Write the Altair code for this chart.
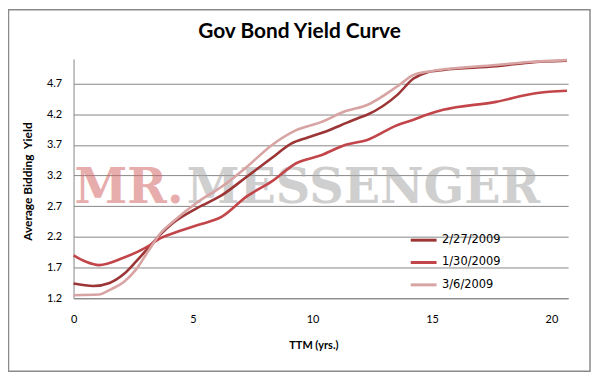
import altair as alt
import pandas as pd

# ---- data ----
series_names = ["2/27/2009", "1/30/2009", "3/6/2009"]
series_colors = ["#9C3535", "#C2454A", "#D8A3A3"]

ttm_0227 = [0, 0.82, 1.51, 2.09, 2.62, 3.13, 3.64, 4.17, 5.17, 6.21, 7.25, 8.28, 9.11, 9.80,
            10.5, 11.19, 11.88, 12.29, 13.54, 14.23, 14.78, 15.47, 17.68, 19.06, 20.65]
yld_0227 = [1.44, 1.40, 1.45, 1.59, 1.80, 2.02, 2.24, 2.43, 2.67, 2.88, 3.18, 3.48, 3.72, 3.82,
            3.91, 4.02, 4.13, 4.19, 4.51, 4.78, 4.88, 4.92, 4.98, 5.04, 5.07]

ttm_0130 = [0, 0.55, 1.06, 2.09, 3.13, 3.64, 4.17, 5.17, 6.21, 7.25, 8.28, 9.32, 10.36, 11.39,
            12.29, 13.54, 14.23, 14.78, 15.47, 17.68, 19.34, 20.65]
yld_0130 = [1.90, 1.79, 1.74, 1.86, 2.05, 2.18, 2.26, 2.39, 2.53, 2.86, 3.10, 3.40, 3.53, 3.70,
            3.78, 4.02, 4.11, 4.19, 4.27, 4.40, 4.54, 4.58]

ttm_0306 = [0, 1.06, 1.58, 2.09, 2.62, 3.13, 3.64, 4.17, 5.17, 6.21, 7.25, 8.28, 9.32, 10.36,
            11.39, 12.29, 13.54, 14.23, 14.78, 15.47, 17.68, 19.06, 20.65]
yld_0306 = [1.25, 1.26, 1.35, 1.46, 1.67, 1.97, 2.26, 2.45, 2.76, 3.02, 3.34, 3.69, 3.94, 4.07,
            4.25, 4.35, 4.65, 4.84, 4.89, 4.93, 5.00, 5.05, 5.08]

y_ticks = [1.2, 1.7, 2.2, 2.7, 3.2, 3.7, 4.2, 4.7]
x_ticks = [0, 5, 10, 15, 20]

title_text = "Gov Bond Yield Curve"
x_title = "TTM (yrs.)"
y_title = "Average Bidding\u00a0 Yield"
watermark_a = "MR."
watermark_b = "MESSENGER"

frames = []
for name, t, y in [(series_names[0], ttm_0227, yld_0227),
                   (series_names[1], ttm_0130, yld_0130),
                   (series_names[2], ttm_0306, yld_0306)]:
    frames.append(pd.DataFrame({"series": name, "ttm": t, "yield": y}))
df = pd.concat(frames, ignore_index=True)

W, H = 498, 241

one = pd.DataFrame({"k": [0]})

frame = alt.Chart(one).mark_rect(
    fill="white", fillOpacity=0, stroke="#8a8a8a", strokeWidth=1.5
).encode(
    x=alt.value(-65.5), x2=alt.value(520), y=alt.value(-49.5), y2=alt.value(314.5)
)

wm_a = alt.Chart(pd.DataFrame({"t": [watermark_a]})).mark_text(
    font="DejaVu Serif", fontWeight="bold", fontSize=48, align="left",
    baseline="alphabetic", color="#D46A6A", opacity=0.55
).encode(text="t:N", x=alt.value(1), y=alt.value(145))

wm_b = alt.Chart(pd.DataFrame({"t": [watermark_b]})).mark_text(
    font="DejaVu Serif", fontWeight="bold", fontSize=48, align="left",
    baseline="alphabetic", color="#A8A8A8", opacity=0.55
).encode(text="t:N", x=alt.value(114), y=alt.value(145))

lines = alt.Chart(df).mark_line(interpolate="monotone", strokeWidth=2.6).encode(
    x=alt.X("ttm:Q", scale=alt.Scale(domain=[0, 20.7], nice=False, zero=False),
            axis=alt.Axis(values=x_ticks, title=x_title, grid=False, ticks=False,
                          labelPadding=15, titleX=241.5, titleY=48,
                          titleBaseline="middle", titleAlign="center",
                          domainColor="#878787", labelFlush=False)),
    y=alt.Y("yield:Q", scale=alt.Scale(domain=[1.2, 5.1], nice=False, zero=False),
            axis=alt.Axis(values=y_ticks, format=".1f", title=y_title,
                          grid=True, gridColor="#878787", ticks=False, labelPadding=12,
                          titleX=-46.5, titleY=123, titleBaseline="middle",
                          titleAlign="center", titleFontSize=12,
                          domainColor="#878787")),
    color=alt.Color("series:N",
                    scale=alt.Scale(domain=series_names, range=series_colors),
                    legend=alt.Legend(title=None, orient="none", legendX=338, legendY=168,
                                      symbolType="stroke", symbolSize=676,
                                      symbolStrokeWidth=3, rowPadding=1.5,
                                      labelFont="DejaVu Sans", labelFontSize=11.5,
                                      labelColor="#000000", labelOffset=4, padding=0)),
)

title = alt.Chart(pd.DataFrame({"t": [title_text]})).mark_text(
    font="Lato", fontWeight="bold", fontSize=21, align="center",
    baseline="alphabetic", color="#000000"
).encode(text="t:N", x=alt.value(227.5), y=alt.value(-21))

chart = alt.layer(wm_a, wm_b, lines, title, frame).properties(
    width=W, height=H,
    autosize=alt.AutoSizeParams(type="none"),
    padding={"left": 66, "top": 50, "right": 23, "bottom": 76},
).configure_view(stroke=None).configure_axis(
    labelFont="Lato", labelFontSize=11, labelColor="#000000",
    titleFont="Lato", titleFontSize=11, titleFontWeight="bold", titleColor="#000000",
    domainWidth=1, gridWidth=1
)

chart.save("out.html", embed_options={"renderer": "svg", "actions": False})
